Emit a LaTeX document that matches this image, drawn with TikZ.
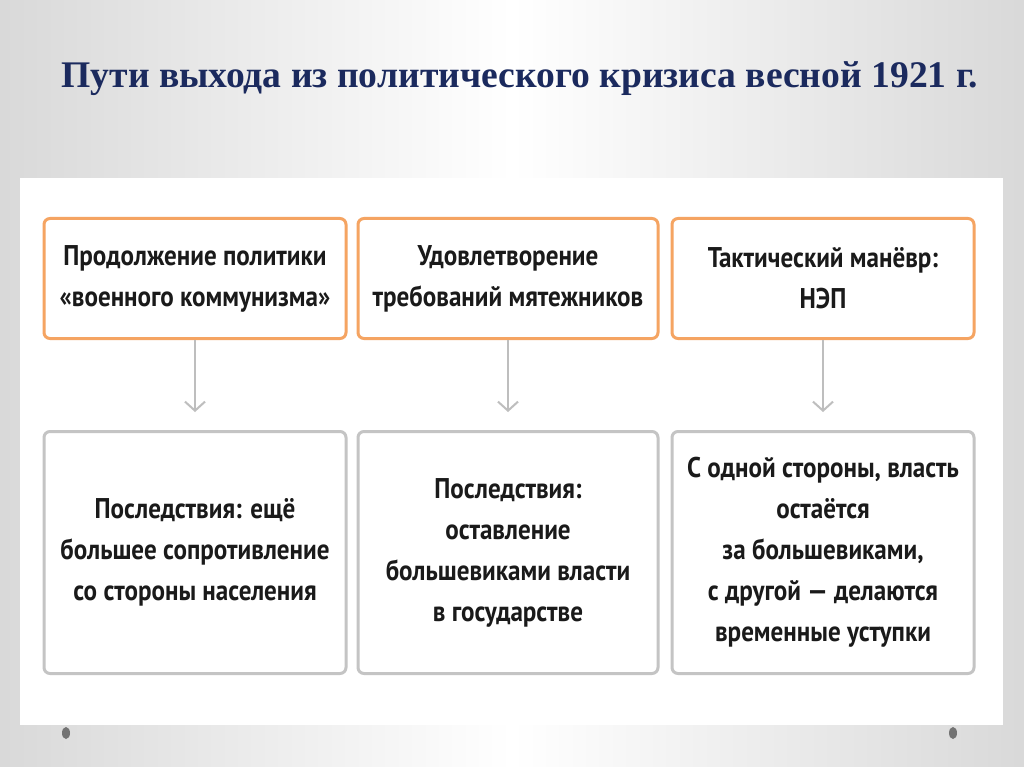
\documentclass[tikz,border=0pt]{standalone}
\usepackage{fontspec}
\setmainfont{Liberation Serif}
\newfontfamily\boxfont[FakeStretch=0.88]{PT Sans}
\usetikzlibrary{arrows.meta}
\definecolor{titlecol}{HTML}{1B2A5E}
\definecolor{orangeb}{HTML}{F5A462}
\definecolor{grayb}{HTML}{C4C4C4}
\definecolor{arrowc}{HTML}{BEBEBE}
\definecolor{textc}{HTML}{1A1A1A}
\begin{document}
\begin{tikzpicture}[x=1pt,y=-1pt,
  topbox/.style={draw=orangeb,line width=3pt,rounded corners=6pt,fill=white,
    minimum width=300pt,minimum height=120pt,align=center,text=textc,
    font=\boxfont\bfseries\fontsize{28.5}{41}\selectfont,inner sep=0pt},
  botbox/.style={topbox,draw=grayb,minimum height=242pt},
  conn/.style={draw=arrowc,line width=2pt,-{Straight Barb[length=9pt,width=20pt,line width=2pt]},shorten >=18pt},
  dotmark/.style={fill=black!55,draw=none}]
\useasboundingbox (0,0) rectangle (1024,767);
% background
\shade[left color=black!15,right color=black!15,middle color=white,shading angle=90] (0,0) rectangle (1024,767);
\fill[white] (20,178) rectangle (1003,725);
% dots
\fill[dotmark] (66,733) ellipse (4pt and 6pt);
\fill[dotmark] (953,733) ellipse (4pt and 6pt);
% title
\node[anchor=base,text=titlecol,font=\bfseries\fontsize{37.6}{42}\selectfont] (title) at (520,88) {Пути выхода из политического кризиса весной 1921 г.};
% top boxes
\node[topbox,minimum width=302pt] (t1) at (195,278.5) {Продолжение политики\\«военного коммунизма»};
\node[topbox] (t2) at (508,278.5) {Удовлетворение\\требований мятежников};
\node[topbox,minimum width=302pt] (t3) at (823,278.5) {Тактический манёвр:\\НЭП};
% bottom boxes
\node[botbox,minimum width=302pt] (b1) at (195,552.5) {Последствия: ещё\\большее сопротивление\\со стороны населения};
\node[botbox] (b2) at (508,552.5) {Последствия:\\оставление\\большевиками власти\\в государстве};
\node[botbox,minimum width=302pt] (b3) at (823,552.5) {С одной стороны, власть\\остаётся\\за большевиками,\\с другой — делаются\\временные уступки};
% arrows
\draw[conn] (t1) -- (b1);
\draw[conn] (t2) -- (b2);
\draw[conn] (t3) -- (b3);
\end{tikzpicture}
\end{document}
